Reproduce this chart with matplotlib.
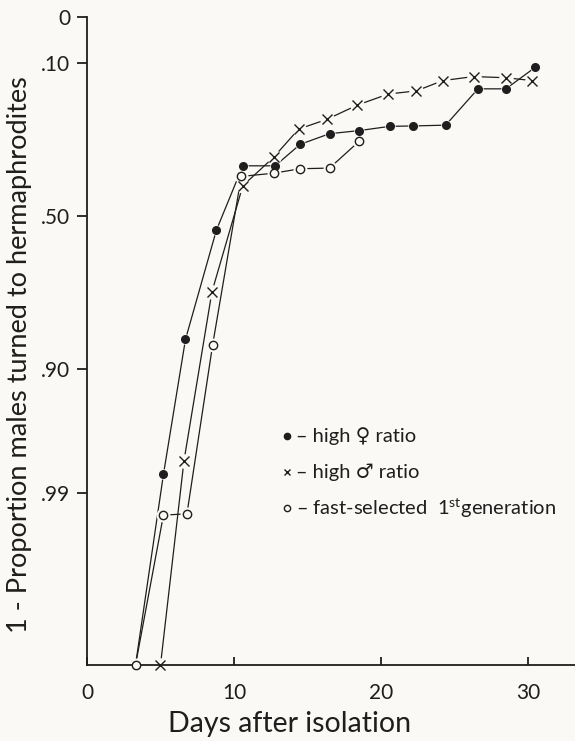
import numpy as np
import matplotlib
matplotlib.use("Agg")
import matplotlib.pyplot as plt
from statistics import NormalDist

plt.rcParams['font.family'] = ['Lato', 'DejaVu Sans']
plt.rcParams['mathtext.fontset'] = 'custom'
plt.rcParams['mathtext.rm'] = 'Lato'

# datos (dias, 1 - proporcion)
dias_hembra = [3.3, 5.2, 6.7, 8.8, 10.6, 12.8, 14.5, 16.5, 18.5, 20.6, 22.2, 24.4, 26.6, 28.5, 30.5]
valor_hembra = [1.0, 0.985, 0.85, 0.548, 0.337, 0.337, 0.274, 0.245, 0.237, 0.226, 0.225, 0.223, 0.143, 0.143, 0.106]

dias_macho = [5.0, 6.6, 8.5, 10.6, 12.7, 14.4, 16.3, 18.4, 20.5, 22.4, 24.2, 26.3, 28.5, 30.3]
valor_macho = [1.0, 0.980, 0.738, 0.40, 0.311, 0.233, 0.209, 0.176, 0.153, 0.147, 0.128, 0.121, 0.123, 0.128]

dias_rapido = [3.3, 5.2, 6.8, 8.55, 10.5, 12.7, 14.5, 16.5, 18.5]
valor_rapido = [1.0, 0.994, 0.9938, 0.86, 0.37, 0.36, 0.346, 0.344, 0.266]

y_ticks = [0, 0.10, 0.50, 0.90, 0.99]
y_labels = ['0', '.10', '.50', '.90', '.99']
x_ticks = [0, 10, 20, 30]
x_labels = ['0', '10', '20', '30']

# escala probit recortada a los limites del eje
nd = NormalDist()
Z_TOP, Z_BOT = -1.67, 3.77
_ppf = np.vectorize(lambda v: nd.inv_cdf(min(max(v, 1e-9), 1 - 1e-9)), otypes=[float])
_cdf = np.vectorize(lambda v: nd.cdf(v), otypes=[float])


def probit(p):
    p = np.asarray(p, dtype=float)
    return np.clip(_ppf(p), Z_TOP, Z_BOT)


def inv_probit(z):
    z = np.asarray(z, dtype=float)
    return _cdf(z)


W, H = 575, 741
bg = '#faf9f5'
ink = '#1e1e1e'

fig = plt.figure(figsize=(W / 100, H / 100), dpi=100, facecolor=bg)
ax = fig.add_axes([87 / W, 1 - 665 / H, 1 - 87 / W, (665 - 17) / H])
ax.set_facecolor(bg)
ax.set_yscale('function', functions=(probit, inv_probit))
ax.set_xlim(0, 33.2)
ax.set_ylim(1.0, 0.0)

# lineas con huecos alrededor de los marcadores
series = [
    (dias_hembra, valor_hembra, dict(marker='o', ms=5.5, mfc=ink, mec=ink), 7.5),
    (dias_macho, valor_macho, dict(marker='x', ms=6.5, mew=1.0, mec=ink), 10.5),
    (dias_rapido, valor_rapido, dict(marker='o', ms=6, mfc=bg, mec=ink, mew=1.0), 10),
]
for d, v, _, _ in series:
    ax.plot(d, v, color=ink, lw=0.9, zorder=1, clip_on=False)
for d, v, _, halo in series:
    ax.plot(d, v, ls='none', marker='o', ms=halo, mfc=bg, mec='none', zorder=2, clip_on=False)
for d, v, estilo, _ in series:
    ax.plot(d, v, ls='none', zorder=3, clip_on=False, **estilo)

for s in ['top', 'right']:
    ax.spines[s].set_visible(False)
for s in ['left', 'bottom']:
    ax.spines[s].set_linewidth(1.3)
    ax.spines[s].set_color(ink)

ax.set_yticks(y_ticks)
ax.set_yticklabels(y_labels)
ax.set_xticks(x_ticks)
ax.set_xticklabels(x_labels)
ax.yaxis.set_minor_locator(matplotlib.ticker.NullLocator())
ax.tick_params(axis='y', direction='out', length=7, width=1.3, color=ink, labelsize=15, labelcolor=ink, pad=5)
ax.tick_params(axis='x', direction='in', length=6, width=1.3, color=ink, labelsize=15, labelcolor=ink, pad=13)

fig.text(20 / W, 1 - 355 / H, '1 - Proportion males turned to hermaphrodites', rotation=90,
         ha='center', va='center', fontsize=19.5, color=ink)
fig.text(290 / W, 1 - 732 / H, 'Days after isolation', ha='center', va='baseline', fontsize=20.5, color=ink)

# leyenda dibujada a mano
leyenda = [
    (436, dict(marker='o', ms=4.5, mfc=ink, mec=ink), '– high ♀ ratio'),
    (472, dict(marker='x', ms=5, mew=1.0, mec=ink), '– high ♂ ratio'),
    (508, dict(marker='o', ms=4.5, mfc=bg, mec=ink, mew=1.0), r'– fast-selected  1$^{\rm st}$generation'),
]
for ypx, estilo, texto in leyenda:
    ax.plot([287 / W], [1 - ypx / H], ls='none', transform=fig.transFigure, clip_on=False, **estilo)
    fig.text(296 / W, 1 - ypx / H, texto, ha='left', va='center', fontsize=14.5, color=ink)

fig.savefig('out.png', dpi=100, facecolor=bg)
